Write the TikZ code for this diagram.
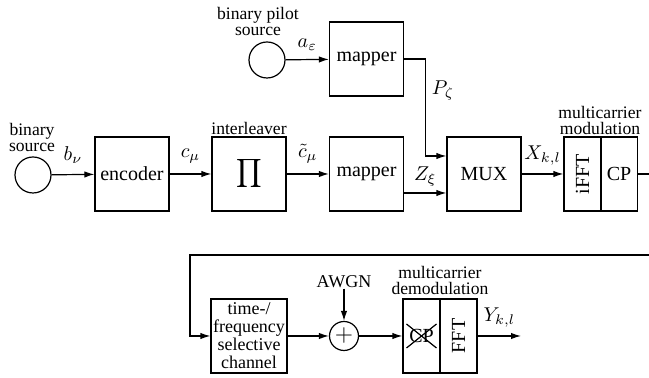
\documentclass[tikz,border=0pt]{standalone}
\usepackage{fontspec}
\setmainfont{Liberation Serif}
\usepackage{xcolor}
\usepackage{tikz}
\usetikzlibrary{arrows.meta}
\definecolor{INK}{HTML}{000000}

\begin{document}
\begin{tikzpicture}[
    x=0.5pt, y=-0.5pt,
    >={Latex[length=5pt,width=3.2pt]},
    line width=0.6pt, draw=INK, text=INK,
    block/.style={draw, minimum width=37pt, minimum height=37pt, inner sep=0pt, font=\normalsize},
    halfblock/.style={draw, minimum width=18.5pt, minimum height=37pt, inner sep=0pt, font=\normalsize},
    srcnode/.style={draw, circle, minimum size=18pt, inner sep=0pt},
    head/.style={font=\fontsize{8.8}{8}\selectfont, align=center, inner sep=0pt},
    sig/.style={font=\normalsize, inner sep=0pt},
  ]
  \useasboundingbox (0,0) rectangle (649,378);

  % --- data branch ---
  \node[srcnode] (src) at (33,175) {};
  \node[head] (srclbl) at (32,137) {binary\\source};
  \node[block] (enc) at (132,174) {encoder};
  \node[block] (intl) at (249,174) {$\displaystyle\prod$};
  \node[head] (intllbl) at (249,128) {interleaver};
  \node[block] (mapd) at (366.5,174) {mapper};
  \node[block] (mux) at (484,174) {MUX};
  \node[halfblock] (ifft) at (582.5,174) {\rotatebox{90}{iFFT}};
  \node[halfblock] (cp) at (619,174) {CP};
  \node[head] (modlbl) at (600,120) {multicarrier\\modulation};

  % --- pilot branch ---
  \node[srcnode] (pilot) at (267,60) {};
  \node[head] (pilotlbl) at (258,21) {binary pilot\\source};
  \node[block] (mapp) at (366.5,59) {mapper};

  % --- channel and receiver ---
  \node[block, minimum width=38pt, font=\fontsize{9}{9}\selectfont, align=center] (chan) at (249,336)
    {time-/\\frequency\\selective\\channel};
  \node[draw, circle, minimum size=14.5pt, inner sep=0pt] (add) at (344,336) {\large $+$};
  \node[sig, font=\fontsize{9}{9}\selectfont] (awgn) at (344,282) {AWGN};
  \node[halfblock] (cprm) at (421.5,336) {CP};
  \node[halfblock] (fft) at (458.5,336) {\rotatebox{90}{FFT}};
  \node[head] (demodlbl) at (440,280) {multicarrier\\demodulation};

  \coordinate (cpout) at (649,174);
  \coordinate (back) at (649,255);
  \coordinate (turn) at (190,255);
  \coordinate (yout) at (521,336);

  % connectors
  \draw[->] (src) -- (enc) node[sig, midway, above=5pt] (bnu) {$b_\nu$};
  \draw[->] (enc) -- (intl) node[sig, midway, above=5pt] (cmu) {$c_\mu$};
  \draw[->] (intl) -- (mapd) node[sig, midway, above=5pt] (ctmu) {$\tilde c_\mu$};
  \draw[->] ([yshift=-9.5pt]mapd.east) -- ([yshift=-9.5pt]mux.west)
    node[sig, midway, above=3pt] (zxi) {$Z_\xi$};
  \draw[->] (pilot) -- (mapp) node[sig, midway, above=4pt] (aeps) {$a_\varepsilon$};
  \draw[->] (mapp.east) -- ++(21,0) |- ([yshift=9pt]mux.west);
  \node[sig] (pzeta) at (443,91) {$P_\zeta$};
  \draw[->] (mux) -- (ifft) node[sig, midway, above=4pt] (xkl) {$X_{k,l}$};
  \draw (cp.east) -- (cpout);
  \draw[->] (back) -- (turn) |- (chan.west);
  \draw[->] (chan) -- (add);
  \draw[->] (awgn) -- (add);
  \draw[->] (add) -- (cprm);
  \draw[->] (fft.east) -- (yout) node[sig, midway, above=4pt] (ykl) {$Y_{k,l}$};

  % crossed-out CP
  \draw ([shift={(-7.5pt,6pt)}]cprm.center) -- ([shift={(7.5pt,-6pt)}]cprm.center);
  \draw ([shift={(-7.5pt,-6pt)}]cprm.center) -- ([shift={(7.5pt,6pt)}]cprm.center);

\end{tikzpicture}
\end{document}
